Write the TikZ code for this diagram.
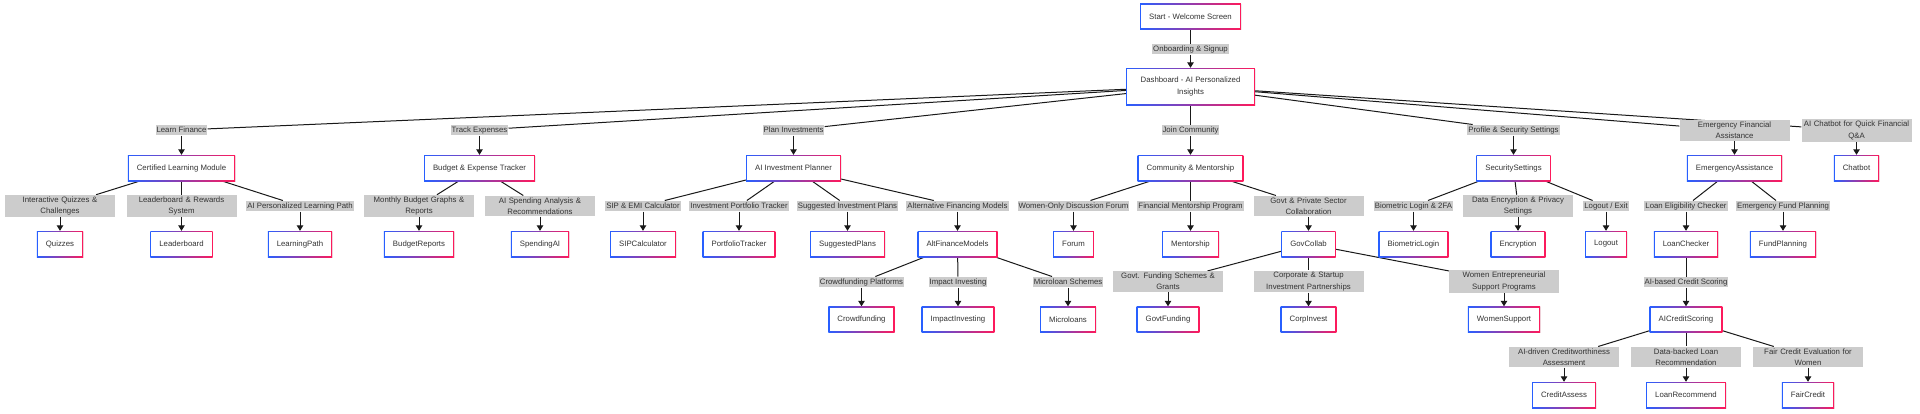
\documentclass[tikz,border=0pt]{standalone}
\usepackage{fontspec}
\setmainfont{Liberation Sans}
\usetikzlibrary{arrows.meta,shadows}
\definecolor{bl}{RGB}{40,95,255}
\definecolor{rd}{RGB}{255,25,90}
\definecolor{lg}{RGB}{204,204,204}
\definecolor{txt}{RGB}{51,51,51}
\pgfdeclarelayer{bg}
\pgfdeclarelayer{back}
\pgfsetlayers{back,bg,main}
\newcommand\dfont{\fontsize{7.8}{11.3}\selectfont}
\begin{document}
\begin{tikzpicture}[x=1pt,y=-1pt,
 box/.style={rectangle, minimum height=26pt, inner xsep=9pt, inner ysep=2pt, font=\dfont, text=txt,
   left color=bl, right color=rd,
   path picture={\fill[white] ([shift={(1.1pt,1.1pt)}]path picture bounding box.south west) rectangle ([shift={(-1.1pt,-1.1pt)}]path picture bounding box.north east);},
   drop shadow={shadow xshift=0.7pt, shadow yshift=-0.9pt, opacity=0.15}},
 lbl/.style={fill=lg, font=\dfont, text=txt, inner xsep=1pt, inner ysep=0.6pt, text height=7.2pt, text depth=2.2pt},
 lbl2/.style={fill=lg, font=\dfont, text=txt, inner xsep=0pt, inner ysep=1.8pt, text width=110pt, align=center},
 edge/.style={draw=black!90, line width=1pt},
 arr/.style={edge, -{Triangle[length=5.5pt,width=6.5pt]}}]
\begin{pgfonlayer}{back}
\fill[white] (0,0) rectangle (1920,413);
\end{pgfonlayer}
\useasboundingbox (0,0) rectangle (1920,413);
% level 0
\node[box] (start) at (1190.5,16.5) {Start - Welcome Screen};
\node[lbl] (lOnb) at (1190.5,49) {Onboarding \& Signup};
\node[box, align=center, minimum height=37pt, inner xsep=14.5pt] (dash) at (1190.5,86.5) {Dashboard - AI Personalized\\Insights};
% level 1 labels
\node[lbl] (lLearn) at (181.5,130) {Learn Finance};
\node[lbl] (lTrack) at (479.5,130) {Track Expenses};
\node[lbl] (lPlan) at (793.5,130) {Plan Investments};
\node[lbl] (lJoin) at (1190.5,130) {Join Community};
\node[lbl] (lProf) at (1513.5,130) {Profile \& Security Settings};
\node[lbl2] (lEmer) at (1734.5,130.5) {Emergency Financial\\Assistance};
\node[lbl2] (lChat) at (1856.5,130.5) {AI Chatbot for Quick Financial\\Q\&A};
% level 2 boxes
\node[box] (clm) at (181.5,168) {Certified Learning Module};
\node[box] (bet) at (479.5,168) {Budget \& Expense Tracker};
\node[box] (aip) at (793.5,168) {AI Investment Planner};
\node[box] (cm) at (1190.5,168) {Community \& Mentorship};
\node[box] (sec) at (1513.5,168) {SecuritySettings};
\node[box] (ea) at (1734.5,168) {EmergencyAssistance};
\node[box] (chat) at (1856.5,168) {Chatbot};
% level 2 labels
\node[lbl2] (lQuiz) at (60,206) {Interactive Quizzes \&\\Challenges};
\node[lbl2] (lLead) at (181.5,206) {Leaderboard \& Rewards\\System};
\node[lbl] (lPath) at (300,206) {AI Personalized Learning Path};
\node[lbl2] (lBudRep) at (419,206) {Monthly Budget Graphs \&\\Reports};
\node[lbl2] (lSpend) at (540,206) {AI Spending Analysis \&\\Recommendations};
\node[lbl] (lSIP) at (643,206) {SIP \& EMI Calculator};
\node[lbl] (lPort) at (739,206) {Investment Portfolio Tracker};
\node[lbl] (lSugg) at (847.5,206) {Suggested Investment Plans};
\node[lbl] (lAlt) at (957.5,206) {Alternative Financing Models};
\node[lbl] (lForum) at (1073.5,206) {Women-Only Discussion Forum};
\node[lbl] (lMent) at (1190.5,206) {Financial Mentorship Program};
\node[lbl2] (lGov) at (1308.5,206) {Govt \& Private Sector\\Collaboration};
\node[lbl] (lBio) at (1413.5,206) {Biometric Login \& 2FA};
\node[lbl2] (lEnc) at (1518,206) {Data Encryption \& Privacy\\Settings};
\node[lbl] (lLogout) at (1606,206) {Logout / Exit};
\node[lbl] (lLoan) at (1686,206) {Loan Eligibility Checker};
\node[lbl] (lFund) at (1783,206) {Emergency Fund Planning};
% level 3 boxes
\node[box] (quiz) at (60,244) {Quizzes};
\node[box] (lead) at (181.5,244) {Leaderboard};
\node[box] (path) at (300,244) {LearningPath};
\node[box] (budrep) at (419,244) {BudgetReports};
\node[box] (spend) at (540,244) {SpendingAI};
\node[box] (sip) at (643,244) {SIPCalculator};
\node[box] (port) at (739,244) {PortfolioTracker};
\node[box] (sugg) at (847.5,244) {SuggestedPlans};
\node[box] (alt) at (957.5,244) {AltFinanceModels};
\node[box] (forum) at (1073.5,244) {Forum};
\node[box] (ment) at (1190.5,244) {Mentorship};
\node[box] (gov) at (1308.5,244) {GovCollab};
\node[box] (bio) at (1413.5,244) {BiometricLogin};
\node[box] (enc) at (1518,244) {Encryption};
\node[box] (logout) at (1606,244) {Logout};
\node[box] (loan) at (1686,244) {LoanChecker};
\node[box] (fund) at (1783,244) {FundPlanning};
% level 3 labels
\node[lbl] (lCrowd) at (861.5,282) {Crowdfunding Platforms};
\node[lbl] (lImpact) at (958,282) {Impact Investing};
\node[lbl] (lMicro) at (1068,282) {Microloan Schemes};
\node[lbl2] (lGovtF) at (1168,281.5) {Govt. Funding Schemes \&\\Grants};
\node[lbl2] (lCorp) at (1308.5,281.5) {Corporate \& Startup\\Investment Partnerships};
\node[lbl2] (lWomen) at (1504,281.5) {Women Entrepreneurial\\Support Programs};
\node[lbl] (lAICS) at (1686,282) {AI-based Credit Scoring};
% level 4 boxes
\node[box] (crowd) at (861.5,319.5) {Crowdfunding};
\node[box] (impact) at (958,319.5) {ImpactInvesting};
\node[box] (micro) at (1068,319.5) {Microloans};
\node[box] (govtf) at (1168,319.5) {GovtFunding};
\node[box] (corp) at (1308.5,319.5) {CorpInvest};
\node[box] (women) at (1504,319.5) {WomenSupport};
\node[box] (aics) at (1686,319.5) {AICreditScoring};
% level 4 labels
\node[lbl2] (lCA) at (1564,357) {AI-driven Creditworthiness\\Assessment};
\node[lbl2] (lLR) at (1686,357) {Data-backed Loan\\Recommendation};
\node[lbl2] (lFC) at (1808,357) {Fair Credit Evaluation for\\Women};
% level 5 boxes
\node[box] (ca) at (1564,395) {CreditAssess};
\node[box] (lr) at (1686,395) {LoanRecommend};
\node[box] (fc) at (1808,395) {FairCredit};
% edges
\begin{pgfonlayer}{bg}
\foreach \p/\l/\c in {start/lOnb/dash,
  dash/lLearn/clm, dash/lTrack/bet, dash/lPlan/aip, dash/lJoin/cm, dash/lProf/sec, dash/lEmer/ea, dash/lChat/chat,
  clm/lQuiz/quiz, clm/lLead/lead, clm/lPath/path,
  bet/lBudRep/budrep, bet/lSpend/spend,
  aip/lSIP/sip, aip/lPort/port, aip/lSugg/sugg, aip/lAlt/alt,
  cm/lForum/forum, cm/lMent/ment, cm/lGov/gov,
  sec/lBio/bio, sec/lEnc/enc, sec/lLogout/logout,
  ea/lLoan/loan, ea/lFund/fund,
  alt/lCrowd/crowd, alt/lImpact/impact, alt/lMicro/micro,
  gov/lGovtF/govtf, gov/lCorp/corp, gov/lWomen/women,
  loan/lAICS/aics,
  aics/lCA/ca, aics/lLR/lr, aics/lFC/fc}
 {\draw[edge] (\p) -- (\l); \draw[arr] (\l) -- (\c);}
\end{pgfonlayer}
\end{tikzpicture}
\end{document}
